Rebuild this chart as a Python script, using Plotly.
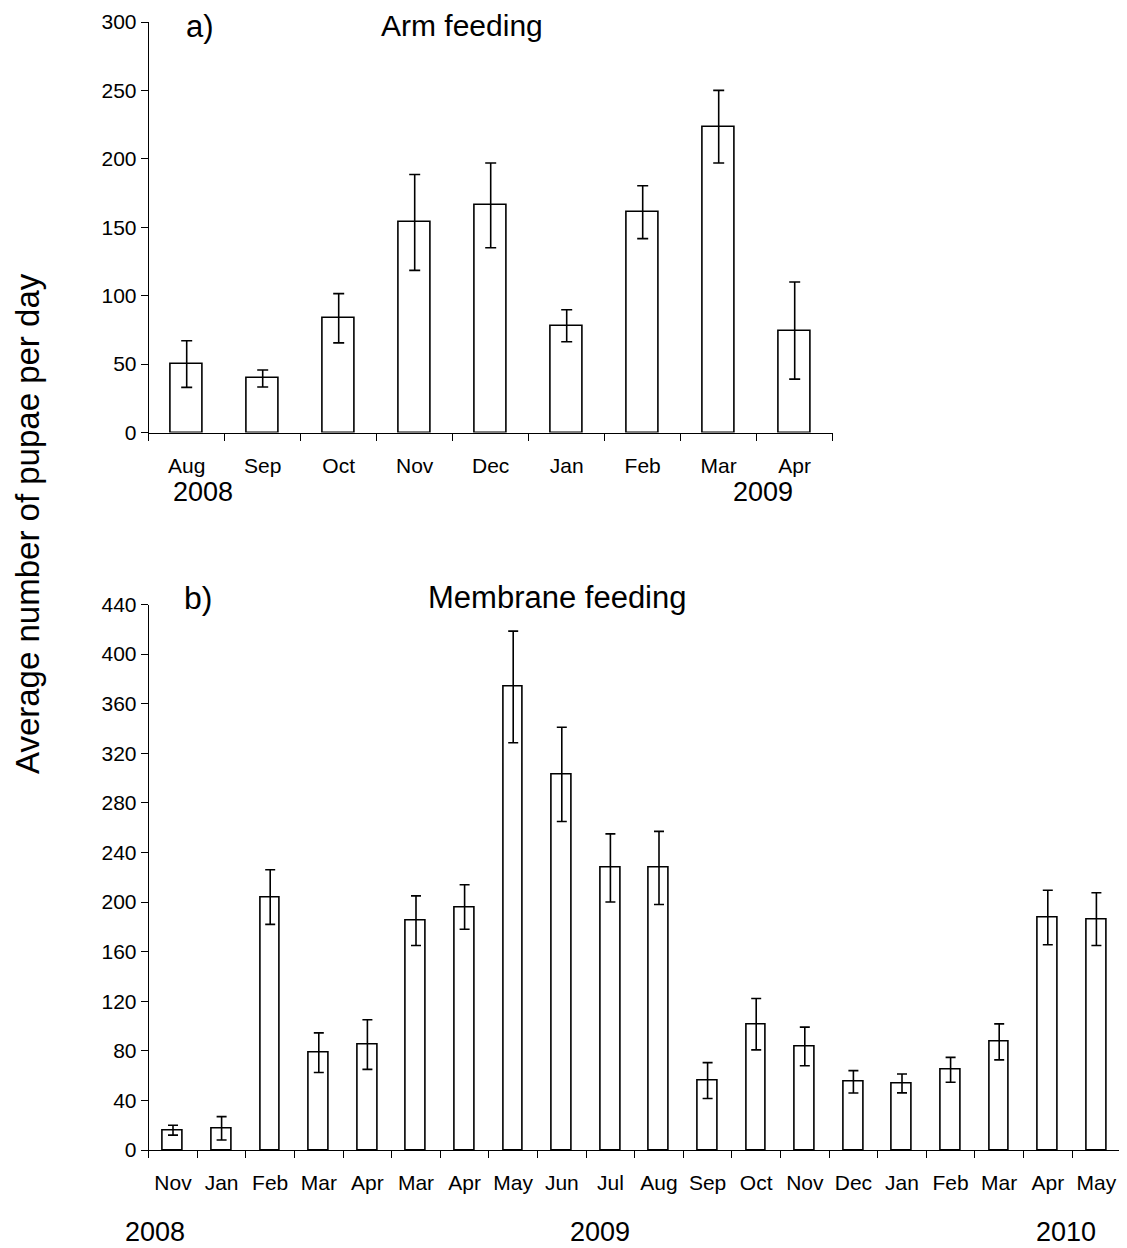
import plotly.graph_objects as go

# ---- Data ----
arm_months = ["Aug", "Sep", "Oct", "Nov", "Dec", "Jan", "Feb", "Mar", "Apr"]
arm_mean = [50, 39.5, 83.5, 153.5, 166, 78, 161, 223.5, 74.5]
arm_err = [17, 6.2, 18, 35, 31, 11.7, 19.3, 26.5, 35.5]

mem_months = ["Nov", "Jan", "Feb", "Mar", "Apr", "Mar", "Apr", "May", "Jun", "Jul",
              "Aug", "Sep", "Oct", "Nov", "Dec", "Jan", "Feb", "Mar", "Apr", "May"]
mem_mean = [16, 17.5, 204, 78.5, 85, 185, 196, 373.5, 303, 227.5,
            227.5, 56, 101.5, 83.5, 55, 53.7, 64.7, 87.2, 187.5, 186.2]
mem_err = [4, 9.4, 22, 16, 20, 20, 18, 45, 38, 27.5,
           29.5, 14.5, 20.7, 15.6, 9, 7.6, 10, 14.5, 22, 21.3]

arm_yticks = [0, 50, 100, 150, 200, 250, 300]
mem_yticks = list(range(0, 441, 40))

# page body has an 8px margin; the figure is sized so it fits the window
OFF = 8
W, H = 1127 - OFF, 1248 - OFF
FONT = "Liberation Sans, Arial, sans-serif"

fig = go.Figure()

arm_x = list(range(len(arm_months)))
mem_x = list(range(len(mem_months)))

bar_style = dict(marker=dict(color="white", line=dict(color="black", width=1.6)),
                 width=0.41, showlegend=False)
err_style = dict(type="data", color="black", thickness=1.6)

fig.add_trace(go.Bar(x=arm_x, y=arm_mean,
                     error_y=dict(array=arm_err, width=5.5, **err_style),
                     xaxis="x", yaxis="y", **bar_style))
fig.add_trace(go.Bar(x=mem_x, y=mem_mean,
                     error_y=dict(array=mem_err, width=5, **err_style),
                     xaxis="x2", yaxis="y2", **bar_style))


def px_x(p):
    return (p - OFF) / W


def px_y(p):
    return 1 - (p - OFF) / H


common_x = dict(showgrid=False, zeroline=False, showline=True, linecolor="black",
                linewidth=1, ticks="", tickmode="array",
                tickfont=dict(family=FONT, size=21, color="black"),
                ticklabelstandoff=14, automargin=False)
common_y = dict(showgrid=False, zeroline=False, showline=True, linecolor="black",
                linewidth=1, ticks="outside", ticklen=7, tickcolor="black",
                tickwidth=1, tickmode="array",
                tickfont=dict(family=FONT, size=21, color="black"),
                automargin=False)

fig.update_layout(
    width=W, height=H,
    margin=dict(l=0, r=0, t=0, b=0),
    paper_bgcolor="white", plot_bgcolor="white",
    bargap=0,
    xaxis=dict(domain=[px_x(148.7), px_x(832.7)], anchor="y",
               range=[-0.5, len(arm_months) - 0.5],
               tickvals=arm_x, ticktext=arm_months,
               minor=dict(tickmode="array",
                          tickvals=[i - 0.5 for i in range(len(arm_months) + 1)],
                          ticks="outside", ticklen=7, tickcolor="black", tickwidth=1,
                          showgrid=False),
               **common_x),
    yaxis=dict(domain=[px_y(432.5), px_y(22)], anchor="x",
               range=[0, 300], tickvals=arm_yticks, **common_y),
    xaxis2=dict(domain=[px_x(148.7), px_x(1120.7)], anchor="y2",
                range=[-0.5, len(mem_months) - 0.5],
                tickvals=mem_x, ticktext=mem_months,
                minor=dict(tickmode="array",
                           tickvals=[i - 0.5 for i in range(len(mem_months) + 1)],
                           ticks="outside", ticklen=7, tickcolor="black", tickwidth=1,
                           showgrid=False),
                **common_x),
    yaxis2=dict(domain=[px_y(1150), px_y(604.5)], anchor="x2",
                range=[0, 440], tickvals=mem_yticks, **common_y),
)


def note(text, x, y, size, yanchor="middle", **kw):
    fig.add_annotation(text=text, x=px_x(x), y=min(1, px_y(y)), xref="paper", yref="paper",
                       xanchor="center", yanchor=yanchor, showarrow=False, borderpad=0,
                       font=dict(family=FONT, size=size, color="black"), **kw)


note("a)", 200, 8, 31, yanchor="top")
note("Arm feeding", 462, 8, 30, yanchor="top")
note("b)", 198, 598, 32)
note("Membrane feeding", 557, 597, 31)
note("2008", 203, 492, 27)
note("2009", 763, 492, 27)
note("2008", 155, 1232, 27)
note("2009", 600, 1232, 27)
note("2010", 1066, 1232, 27)
note("Average number of pupae per day", 27, 524, 33, textangle=-90)

fig.write_html("out.html")
